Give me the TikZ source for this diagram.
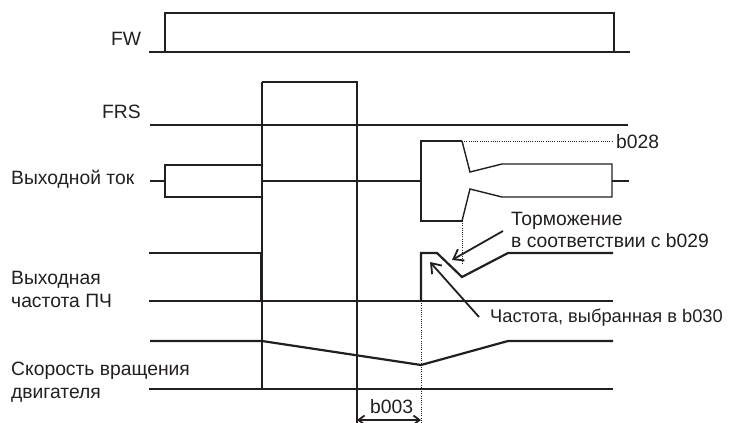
\documentclass[tikz,border=0pt]{standalone}
\usepackage{fontspec}
\setmainfont{Liberation Sans}
\usetikzlibrary{arrows.meta}
\definecolor{ink}{HTML}{231F20}
\begin{document}
\begin{tikzpicture}[x=1pt,y=-1pt,
  sig/.style={line width=2.2pt, draw=ink},
  thinl/.style={line width=1.3pt, draw=ink},
  cur/.style={line width=1.4pt, draw=ink},
  dotl/.style={line width=0.9pt, draw=ink, dash pattern=on 0.9pt off 1.3pt},
  lbl/.style={inner sep=0pt, anchor=base west, text=ink, font=\fontsize{19.3}{23}\selectfont},
  lblsm/.style={lbl, font=\fontsize{18.3}{22}\selectfont},
  arr/.style={line width=1.8pt, draw=ink, -{Straight Barb[length=9pt,width=13pt,line width=1.8pt]}},
  dim/.style={line width=1.8pt, draw=ink, {Straight Barb[length=6pt,width=9pt,line width=1.8pt]}-{Straight Barb[length=6pt,width=9pt,line width=1.8pt]}}
]
\useasboundingbox (0,0) rectangle (731,423);

% labels
\node[lbl] (fw) at (111,45) {FW};
\node[lbl] (frs) at (102,118) {FRS};
\node[lbl] (cur) at (11,184.5) {Выходной ток};
\node[lbl] (fq1) at (11,284) {Выходная};
\node[lbl] (fq2) at (11,307.5) {частота ПЧ};
\node[lbl] (sp1) at (11,375) {Скорость вращения};
\node[lbl] (sp2) at (11,398) {двигателя};
\node[lbl] (b028) at (616,148) {b028};
\node[lbl] (tor1) at (511,225) {Торможение};
\node[lbl] (tor2) at (511,247.5) {в соответствии с b029};
\node[lblsm] (chs) at (490,322) {Частота, выбранная в b030};
\node[lbl] (b003) at (370,413) {b003};

% FW
\draw[sig] (149,52) -- (630,52);
\draw[sig] (165,52) -- (165,13) -- (614,13) -- (614,52);

% FRS
\draw[sig] (150,125) -- (628,125);
\draw[sig] (262,82) -- (358,82);
\draw[thinl] (262,82) -- (262,389);
\draw[thinl] (357,82) -- (357,423);

% output current
\draw[cur] (150,181) -- (165,181);
\draw[cur] (262,165) -- (165,165) -- (165,197) -- (262,197);
\draw[cur] (262,181) -- (421,181);
\draw[cur] (462,141) -- (421,141) -- (421,221) -- (462,221);
\draw[cur] (462,141) -- (470,172) -- (502,164) -- (612,164) -- (612,197) -- (502,197) -- (470,189) -- (462,221);
\draw[cur] (612,181) -- (629,181);

% dotted guides
\draw[dotl] (462,141) -- (613,141);
\draw[dotl] (462,221) -- (462,264);
\draw[dotl] (421,301) -- (421,423);

% output frequency
\draw[sig] (149,253) -- (261,253) -- (261,301);
\draw[sig] (149,301) -- (613,301);
\draw[sig] (421,301) -- (421,253) -- (437,253) -- (462,277) -- (508,253) -- (613,253);

% motor speed
\draw[sig] (150,341) -- (262,341) -- (421,365) -- (508,341) -- (613,341);
\draw[sig] (149,389) -- (613,389);

% annotation arrows
\coordinate (a1s) at (503,231);
\coordinate (a1t) at (452,260);
\coordinate (a2s) at (479,317);
\coordinate (a2t) at (430,262);
\draw[arr] (a1s) -- (a1t);
\draw[arr] (a2s) -- (a2t);

% b003 dimension
\coordinate (d1) at (357,420);
\coordinate (d2) at (421,420);
\draw[dim] (d1) -- (d2);
\end{tikzpicture}
\end{document}
